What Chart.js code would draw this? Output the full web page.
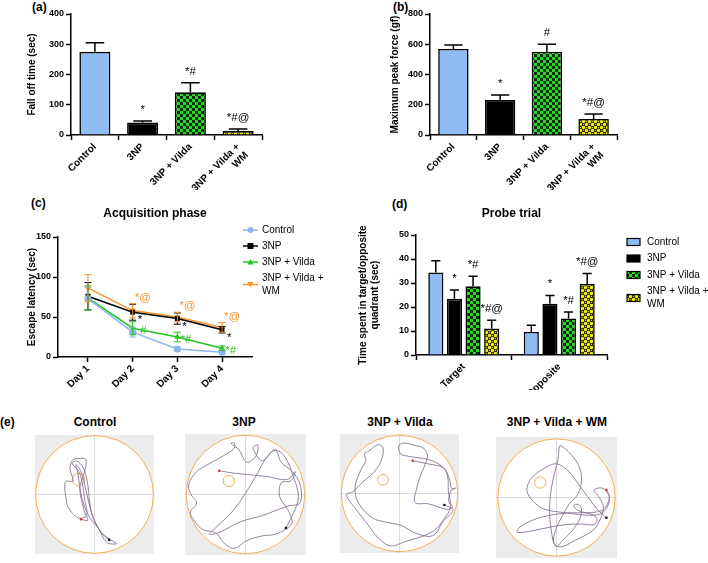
<!DOCTYPE html>
<html>
<head>
<meta charset="utf-8">
<script src="https://cdn.jsdelivr.net/npm/chart.js@4.4.1/dist/chart.umd.min.js"></script>
<style>
body{margin:0;background:#fff;width:708px;height:563px;position:relative;overflow:hidden;font-family:'Liberation Sans',Arial,sans-serif}
canvas{position:absolute}
.tag{position:absolute;font-weight:bold;font-size:12px;line-height:12px}
.mt{position:absolute;font-weight:bold;font-size:12px;line-height:12px;width:160px;text-align:center}
</style>
</head>
<body>
<div class="tag" style="left:32px;top:1px">(a)</div>
<div class="tag" style="left:393px;top:1px">(b)</div>
<div class="tag" style="left:31px;top:197px">(c)</div>
<div class="tag" style="left:392px;top:198px">(d)</div>
<div class="tag" style="left:0px;top:416px">(e)</div>
<div class="mt" style="left:15px;top:416px">Control</div>
<div class="mt" style="left:164px;top:416px">3NP</div>
<div class="mt" style="left:320px;top:416px">3NP + Vilda</div>
<div class="mt" style="left:477px;top:416px">3NP + Vilda + WM</div>

<canvas id="chA" width="275" height="190" style="left:0;top:0"></canvas>
<canvas id="chB" width="270" height="190" style="left:360px;top:0"></canvas>
<canvas id="chC" width="350" height="200" style="left:0;top:190px"></canvas>
<canvas id="chD" width="358" height="200" style="left:350px;top:190px"></canvas>
<canvas id="mzControl" width="127" height="127" style="left:31px;top:431px"></canvas>
<canvas id="mz3NP" width="129" height="129" style="left:181px;top:430px"></canvas>
<canvas id="mzVilda" width="127" height="127" style="left:336px;top:430px"></canvas>
<canvas id="mzWM" width="129" height="129" style="left:492px;top:433px"></canvas>

<script>
// groups
const groupNames = ['Control', '3NP', '3NP + Vilda', '3NP + Vilda + WM'];

// (a) rotarod
const fallOffTime = [275, 41, 141, 13];
const fallOffErr = [30, 5, 32, 7];
const fallOffMarks = ['', '*', '*#', '*#@'];

// (b) grip strength
const peakForce = [569, 231, 551, 106];
const peakForceErr = [26, 33, 49, 33];
const peakForceMarks = ['', '*', '#', '*#@'];

// (c) acquisition phase
const dayLabels = ['Day 1', 'Day 2', 'Day 3', 'Day 4'];
const latControl = [73, 31, 10, 6];
const latControlErr = [14, 6, 3, 2];
const lat3NP = [76, 56, 48, 34];
const lat3NPErr = [17, 10, 7, 4];
const lat3NPMarks = ['', '*', '*', '*'];
const latVilda = [74, 36, 25, 11];
const latVildaErr = [15, 8, 6, 3];
const latVildaMarks = ['', '#', '*#', '*#'];
const latWM = [86, 58, 50, 37];
const latWMErr = [17, 9, 6, 6];
const latWMMarks = ['', '*@', '*@', '*@'];

// (d) probe trial
const quadrants = ['Target', 'Opposite'];
const probeControl = [34.4, 9.6];
const probeControlErr = [4.9, 2.8];
const probe3NP = [23.4, 21.4];
const probe3NPErr = [3.7, 3.4];
const probeVilda = [28.6, 15.2];
const probeVildaErr = [4.2, 2.7];
const probeWM = [11.0, 29.6];
const probeWMErr = [3.5, 4.4];
const probeMarks = [['', ''], ['*', '*'], ['*#', '*#'], ['*#@', '*#@']];

// (e) swim tracks, in tracker units (y grows downwards)
const trackControl = [[240,452],[262,456],[250,425],[236,352],[248,312],[256,262],[232,258],[212,264],[205,292],[214,330],[190,332],[194,398],[204,422],[232,448],[258,440],[252,392],[244,336],[232,298],[212,274],[226,266],[246,286],[260,332],[268,400],[276,440],[300,488],[330,515],[354,530],[322,526],[296,482],[266,444],[242,382],[230,304],[224,278],[240,300],[256,360],[274,432],[302,492],[330,518]];
const track3NP = [[652,297],[700,305],[800,315],[870,325],[895,300],[880,330],[850,335],[845,380],[870,420],[885,460],[870,480],[830,500],[790,505],[740,520],[700,545],[670,530],[640,495],[600,485],[575,460],[560,430],[580,400],[560,370],[555,340],[580,300],[620,275],[665,250],[700,225],[700,208],[690,210],[715,230],[740,270],[770,250],[775,215],[760,225],[790,265],[830,230],[850,270],[885,300],[910,340],[910,400],[870,410],[790,440],[720,460],[650,495],[620,500],[640,480],[700,420],[760,330],[800,260],[830,232],[860,250],[890,320],[905,380],[890,430],[865,480]];
const trackVilda = [[250,102],[300,112],[350,125],[368,160],[375,190],[388,190],[373,198],[366,232],[378,252],[360,258],[300,240],[258,236],[262,195],[275,150],[290,115],[298,85],[285,62],[255,52],[220,45],[205,55],[212,80],[240,88],[300,98],[345,120],[362,150],[365,200],[372,250],[350,290],[320,325],[280,345],[230,360],[180,375],[140,350],[105,305],[70,260],[38,212],[60,200],[90,170],[125,140],[150,100],[155,60],[140,50],[110,70],[95,80],[100,100],[80,140],[65,190],[75,235],[120,285],[170,300],[215,310],[250,330],[300,345],[325,335],[345,300],[380,260],[352,244]];
const trackWM = [[780,358],[790,380],[780,410],[765,425],[720,432],[660,432],[600,440],[545,455],[500,480],[495,495],[540,490],[600,478],[650,470],[700,468],[740,470],[750,455],[740,440],[690,425],[675,410],[690,405],[700,420],[695,450],[670,490],[640,520],[620,540],[610,520],[620,480],[640,440],[660,405],[690,370],[700,330],[695,290],[675,255],[640,220],[630,218],[625,260],[610,320],[600,380],[598,440],[605,500],[615,535],[640,540],[680,520],[720,500],[745,480],[765,440],[770,410],[755,380],[740,360],[760,352],[778,360],[790,390],[770,430],[730,440],[650,432],[580,420],[545,395],[525,360],[540,320],[580,290],[620,275],[660,300],[690,340],[720,380],[750,420],[780,448]];

// pool and platform of each track
const arenaControl = {cx:283, cy:373, r:188, half:190, px:232, py:325, pr:20};
const arena3NP = {cx:736, cy:373, r:189, half:193, px:683, py:330, pr:18};
const arenaVilda = {cx:208, cy:207, r:187, half:191, px:155, py:163, pr:17};
const arenaWM = {cx:620, cy:383, r:188, half:194, px:568, py:335, pr:18};

const family = "'Liberation Sans', Arial, sans-serif";
Chart.defaults.font.family = family;
Chart.defaults.color = '#000';
Chart.defaults.animation = false;
Chart.defaults.plugins.legend.display = false;
Chart.defaults.plugins.tooltip.enabled = false;

function wrapLabel(s) {// long names go on two lines
  if (s.length < 14) return s;
  const k = s.lastIndexOf(' ');
  return [s.slice(0, k), s.slice(k + 1)];
}

function checkPattern() {// green checks for 3NP + Vilda
  const c = document.createElement('canvas'); c.width = 6; c.height = 6;
  const g = c.getContext('2d');
  g.fillStyle = '#2bd62b'; g.fillRect(0, 0, 6, 6);
  g.fillStyle = '#0c2e0c'; g.fillRect(0, 0, 3, 3); g.fillRect(3, 3, 3, 3);
  return g.createPattern(c, 'repeat');
}

function dotPattern() {// yellow dots for 3NP + Vilda + WM
  const c = document.createElement('canvas'); c.width = 6; c.height = 6;
  const g = c.getContext('2d');
  g.fillStyle = '#2a2a08'; g.fillRect(0, 0, 6, 6);
  g.fillStyle = '#f2ee1c';
  g.beginPath(); g.arc(1.5, 1.5, 1.7, 0, 2 * Math.PI); g.arc(4.5, 4.5, 1.7, 0, 2 * Math.PI); g.fill();
  g.beginPath(); g.arc(4.5, 1.5, 0.6, 0, 2 * Math.PI); g.arc(1.5, 4.5, 0.6, 0, 2 * Math.PI); g.fill();
  return g.createPattern(c, 'repeat');
}

const groupFills = ['#8fbcf2', '#000000', checkPattern(), dotPattern()];
const lineColors = ['#8db6ec', '#000000', '#22c322', '#f5962a'];

function drawMarker(ctx, style, x, y, r, color) {
  ctx.fillStyle = color; ctx.beginPath();
  if (style === 'circle') ctx.arc(x, y, r, 0, 2 * Math.PI);
  else if (style === 'rect') ctx.rect(x - r, y - r, 2 * r, 2 * r);
  else if (style === 'up') { ctx.moveTo(x, y - r); ctx.lineTo(x + r, y + r * 0.8); ctx.lineTo(x - r, y + r * 0.8); }
  else { ctx.moveTo(x, y + r); ctx.lineTo(x + r, y - r * 0.8); ctx.lineTo(x - r, y - r * 0.8); }
  ctx.fill();
}

const errBars = {// error bars and significance marks
  id: 'errBars',
  afterDatasetsDraw(chart) {
    const ctx = chart.ctx, ys = chart.scales.y;
    chart.data.datasets.forEach((ds, di) => {
      if (!ds.errors) return;
      chart.getDatasetMeta(di).data.forEach((el, i) => {
        const v = typeof ds.data[i] === 'object' ? ds.data[i].y : ds.data[i];
        const top = ys.getPixelForValue(v + ds.errors[i]);
        const bot = ds.errBoth ? ys.getPixelForValue(v - ds.errors[i]) : el.y;
        const cap = ds.capWidth || el.width * 0.6;
        ctx.save();
        ctx.strokeStyle = ds.errColor; ctx.lineWidth = ds.errWidth;
        ctx.beginPath();
        ctx.moveTo(el.x, bot); ctx.lineTo(el.x, top);
        ctx.moveTo(el.x - cap / 2, top); ctx.lineTo(el.x + cap / 2, top);
        if (ds.errBoth) { ctx.moveTo(el.x - cap / 2, bot); ctx.lineTo(el.x + cap / 2, bot); }
        ctx.stroke();
        const mark = ds.marks && ds.marks[i];
        if (mark) {
          ctx.fillStyle = ds.markColor || '#000';
          ctx.font = '11.5px ' + family;
          ctx.textAlign = ds.markAlign || 'center';
          ctx.textBaseline = ds.markBaseline || 'alphabetic';
          const y0 = ds.markAt === 'mean' ? el.y : top;
          ctx.fillText(mark, el.x + (ds.markDx || 0), y0 + (ds.markDy || 0));
        }
        ctx.restore();
      });
    });
  }
};

const sideLegend = {// legend to the right of the plot
  id: 'sideLegend',
  afterDraw(chart, args, o) {
    const ctx = chart.ctx;
    let y = o.y;
    chart.data.datasets.forEach((ds, i) => {
      const w = wrapLabel(ds.label);
      const lines = Array.isArray(w) ? w : [w];
      const mid = y + (lines.length - 1) * o.lineH / 2;
      ctx.save();
      if (o.kind === 'line') {
        ctx.strokeStyle = ds.borderColor; ctx.lineWidth = 1.5;
        ctx.beginPath(); ctx.moveTo(o.x, mid); ctx.lineTo(o.x + 15, mid); ctx.stroke();
        drawMarker(ctx, ds.markerShape, o.x + 7.5, mid, 3, ds.borderColor);
      } else {
        ctx.fillStyle = ds.backgroundColor; ctx.fillRect(o.x, mid - 3.5, 13, 7);
        ctx.strokeStyle = '#000'; ctx.lineWidth = 1.2; ctx.strokeRect(o.x, mid - 3.5, 13, 7);
      }
      ctx.fillStyle = '#000'; ctx.font = '10px ' + family;
      ctx.textAlign = 'left'; ctx.textBaseline = 'middle';
      lines.forEach((t, k) => ctx.fillText(t, o.textX, y + k * o.lineH));
      ctx.restore();
      y += o.step + (lines.length - 1) * o.lineH;
    });
  }
};

const poolPlugin = {// grey frame, pool, cross and platform
  id: 'pool',
  beforeDatasetsDraw(chart, args, o) {
    const {ctx, chartArea: a, scales: {x, y}} = chart;
    const cx = x.getPixelForValue(o.cx), cy = y.getPixelForValue(o.cy);
    const r = x.getPixelForValue(o.cx + o.r) - cx;
    const px = x.getPixelForValue(o.px), py = y.getPixelForValue(o.py);
    const pr = x.getPixelForValue(o.px + o.pr) - px;
    ctx.save();
    ctx.fillStyle = '#ececec'; ctx.fillRect(a.left, a.top, a.width, a.height);
    ctx.fillStyle = '#fff'; ctx.beginPath(); ctx.arc(cx, cy, r, 0, 2 * Math.PI); ctx.fill();
    ctx.strokeStyle = '#d2d2d2'; ctx.lineWidth = 0.8;
    ctx.beginPath(); ctx.moveTo(cx, a.top); ctx.lineTo(cx, a.bottom); ctx.moveTo(a.left, cy); ctx.lineTo(a.right, cy); ctx.stroke();
    ctx.strokeStyle = '#f2ae5a'; ctx.lineWidth = 1;
    ctx.beginPath(); ctx.arc(cx, cy, r, 0, 2 * Math.PI); ctx.stroke();
    ctx.beginPath(); ctx.arc(px, py, pr, 0, 2 * Math.PI); ctx.stroke();
    ctx.restore();
  }
};

function axisX(h) {
  return {
    grid: {drawOnChartArea: false, tickLength: 5, tickColor: '#000', tickWidth: 1.5},
    border: {color: '#000', width: 1.5},
    ticks: {font: {size: 10, weight: 'bold'}, maxRotation: 45, minRotation: 45, autoSkip: false, padding: 1},
    afterFit: s => { s.height = h; }
  };
}

function axisY(w, max, step, title) {
  return {
    min: 0, max: max,
    grid: {drawOnChartArea: false, tickLength: 5, tickColor: '#000', tickWidth: 1.5},
    border: {color: '#000', width: 1.5},
    ticks: {stepSize: step, font: {size: 9, weight: 'bold'}, padding: 2},
    title: {display: true, text: title, font: {size: 10, weight: 'bold'}, padding: {top: 4, bottom: 0}},
    afterFit: s => { s.width = w; }
  };
}

function barPanel(id, values, errs, marks, yMax, yStep, yTitle, padL, yW, padR) {
  return new Chart(document.getElementById(id), {
    type: 'bar',
    data: {
      labels: groupNames.map(wrapLabel),
      datasets: [{
        data: values, errors: errs, marks: marks,
        backgroundColor: groupFills, borderColor: '#000', borderWidth: 1.6,
        barPercentage: 0.65, categoryPercentage: 1,
        errColor: '#000', errWidth: 1.5, markDy: -8
      }]
    },
    options: {
      responsive: false,
      layout: {padding: {left: padL, right: padR, top: 14, bottom: 0}},
      scales: {x: axisX(55), y: axisY(yW, yMax, yStep, yTitle)}
    },
    plugins: [errBars]
  });
}

barPanel('chA', fallOffTime, fallOffErr, fallOffMarks, 400, 100, 'Fall off time (sec)', 22, 49, 13);
barPanel('chB', peakForce, peakForceErr, peakForceMarks, 800, 200, 'Maximum peak force (gf)', 25, 45, 13);

// (c) line chart
const latSeries = [
  {vals: latControl, errs: latControlErr, marks: null, shape: 'circle'},
  {vals: lat3NP, errs: lat3NPErr, marks: lat3NPMarks, shape: 'rect', markAt: 'mean', markDx: 5, markDy: 8, markAlign: 'left'},
  {vals: latVilda, errs: latVildaErr, marks: latVildaMarks, shape: 'up', markAt: 'mean', markDx: 14, markDy: 3, markAlign: 'right'},
  {vals: latWM, errs: latWMErr, marks: latWMMarks, shape: 'down', markAt: 'top', markDx: 2, markDy: -6, markAlign: 'left'}
];
const pointStyles = {circle: 'circle', rect: 'rect', up: 'triangle', down: 'triangle'};

new Chart(document.getElementById('chC'), {
  type: 'line',
  data: {
    datasets: latSeries.map((s, i) => ({
      label: groupNames[i],
      data: s.vals.map((v, k) => ({x: k + 1, y: v})),
      errors: s.errs, marks: s.marks, errBoth: true, capWidth: 7,
      errColor: lineColors[i], errWidth: 1, markColor: lineColors[i],
      markAt: s.markAt, markDx: s.markDx, markDy: s.markDy, markAlign: s.markAlign, markBaseline: 'middle',
      markerShape: s.shape,
      borderColor: lineColors[i], backgroundColor: lineColors[i], borderWidth: 1.5,
      pointStyle: pointStyles[s.shape], pointRotation: s.shape === 'down' ? 180 : 0,
      pointRadius: 3.5, pointBorderWidth: 0, tension: 0
    }))
  },
  options: {
    responsive: false,
    layout: {padding: {left: 22, right: 98, top: 0, bottom: 0}},
    plugins: {
      title: {display: true, text: 'Acquisition phase', fullSize: false, font: {size: 12, weight: 'bold'}, padding: {top: 16, bottom: 16.6}},
      sideLegend: {kind: 'line', x: 243, textX: 262, y: 40, step: 16, lineH: 13}
    },
    scales: {
      x: Object.assign(axisX(33), {
        type: 'linear', min: 0.33, max: 4.67,
        afterBuildTicks: s => { s.ticks = dayLabels.map((d, i) => ({value: i + 1})); }
      }),
      y: axisY(36, 150, 50, 'Escape latency (sec)')
    }
  },
  plugins: [errBars, sideLegend]
});
// tick labels for the day axis
Chart.getChart('chC').options.scales.x.ticks.callback = v => dayLabels[v - 1];
Chart.getChart('chC').update();

// (d) grouped bars
const probeSeries = [probeControl, probe3NP, probeVilda, probeWM];
const probeErrs = [probeControlErr, probe3NPErr, probeVildaErr, probeWMErr];

new Chart(document.getElementById('chD'), {
  type: 'bar',
  data: {
    labels: quadrants,
    datasets: probeSeries.map((vals, i) => ({
      label: groupNames[i], data: vals, errors: probeErrs[i], marks: probeMarks[i],
      backgroundColor: groupFills[i], borderColor: '#000', borderWidth: 1.6,
      barPercentage: 0.81, categoryPercentage: 0.78,
      errColor: '#000', errWidth: 1.5, markDy: -8
    }))
  },
  options: {
    responsive: false,
    layout: {padding: {left: 3, right: 101, top: 0, bottom: 0}},
    plugins: {
      title: {display: true, text: 'Probe trial', fullSize: false, font: {size: 12, weight: 'bold'}, padding: {top: 16, bottom: 14.6}},
      sideLegend: {kind: 'box', x: 277, textX: 297, y: 52, step: 16.5, lineH: 13}
    },
    scales: {
      x: axisX(35),
      y: axisY(63, 50, 10, ['Time spent in target/opposite', 'quadrant (sec)'])
    }
  },
  plugins: [errBars, sideLegend]
});

// (e) swim paths
function mazePanel(id, track, arena) {
  const pts = track.map(p => ({x: p[0], y: p[1]}));
  return new Chart(document.getElementById(id), {
    type: 'scatter',
    data: {
      datasets: [
        {data: [pts[0]], pointRadius: 1.3, backgroundColor: '#c0392b', borderWidth: 0},
        {data: [pts[pts.length - 1]], pointRadius: 1.3, backgroundColor: '#111', borderWidth: 0},
        {data: pts, showLine: true, borderColor: '#8a7494', borderWidth: 0.9, pointRadius: 0, tension: 0.35}
      ]
    },
    options: {
      responsive: false,
      layout: {padding: 0},
      plugins: {pool: arena},
      scales: {
        x: {type: 'linear', display: false, min: arena.cx - arena.half, max: arena.cx + arena.half},
        y: {type: 'linear', display: false, min: arena.cy - arena.half, max: arena.cy + arena.half, reverse: true}
      }
    },
    plugins: [poolPlugin]
  });
}

mazePanel('mzControl', trackControl, arenaControl);
mazePanel('mz3NP', track3NP, arena3NP);
mazePanel('mzVilda', trackVilda, arenaVilda);
mazePanel('mzWM', trackWM, arenaWM);
</script>
</body>
</html>
